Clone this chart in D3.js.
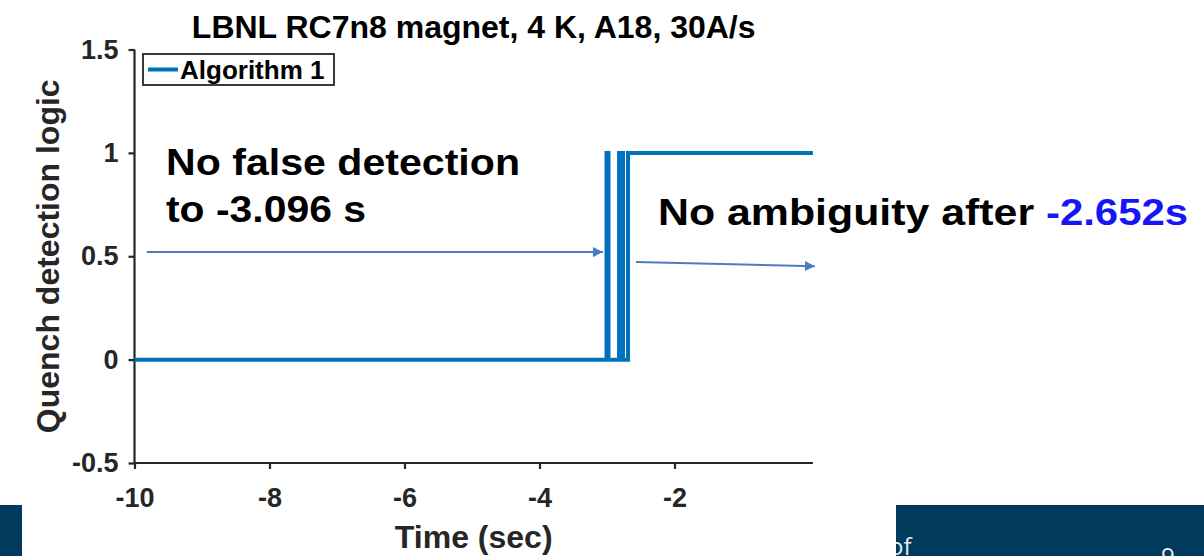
<!DOCTYPE html>
<html>
<head>
<meta charset="UTF-8">
<style>
  body { margin: 0; background: #fff; }
  svg { display: block; font-family: "Liberation Sans", Arial, sans-serif; }
</style>
</head>
<body>
<svg></svg>
<script src="https://d3js.org/d3.v7.min.js"></script>
<script>
// values
const times = [-10, -3.007, -2.978, -2.822, -2.763, -2.689, 0.05];
const logic = [0, 1, 0, 1, 0, 1, 1];
const xTicks = [-10, -8, -6, -4, -2];
const yTicks = [-0.5, 0, 0.5, 1, 1.5];
const seriesName = "Algorithm 1";
const titleText = "LBNL RC7n8 magnet, 4 K, A18, 30A/s";

let width = 1204, height = 556;
let svg = d3.select("svg").attr("width", width).attr("height", height);

let x = d3.scaleLinear().domain([-10, 0.05]).range([134.5, 812.9]);
let y = d3.scaleLinear().domain([-0.5, 1.5]).range([463, 49.5]);

const axisColor = "#262626";
const lineColor = "#0072BD";
const arrowColor = "#4a7ebb";

// slide footer strips
svg.append("rect").attr("x", 0).attr("y", 505).attr("width", 22).attr("height", 51).attr("fill", "#003a5c");
svg.append("clipPath").attr("id", "footClip")
  .append("rect").attr("x", 896).attr("y", 505).attr("width", 308).attr("height", 51);
let foot = svg.append("g").attr("clip-path", "url(#footClip)");
foot.append("rect").attr("x", 896).attr("y", 505).attr("width", 308).attr("height", 51).attr("fill", "#003a5c");
foot.append("text").attr("x", 889).attr("y", 555).attr("font-family", "Open Sans, sans-serif")
  .attr("font-size", 24).attr("fill", "#e6ecf1").text("of");
foot.append("text").attr("x", 1161).attr("y", 565).attr("font-family", "Open Sans, sans-serif")
  .attr("font-size", 24).attr("fill", "#e6ecf1").text("9");

// axes
let xAxis = d3.axisBottom(x).tickValues(xTicks).tickSize(6).tickPadding(19).tickFormat(d => String(d));
let yAxis = d3.axisLeft(y).tickValues(yTicks).tickSize(6).tickPadding(10).tickFormat(d => String(d));

let gx = svg.append("g").attr("transform", "translate(0," + y(-0.5) + ")").call(xAxis);
let gy = svg.append("g").attr("transform", "translate(" + x(-10) + ",0)").call(yAxis);

[gx, gy].forEach(g => {
  g.select(".domain").attr("stroke", axisColor).attr("stroke-width", 2.2);
  g.selectAll(".tick line").attr("stroke", axisColor).attr("stroke-width", 2.2);
  g.selectAll(".tick text").attr("fill", axisColor)
    .attr("font-family", "Liberation Sans, Arial, sans-serif")
    .attr("font-size", 27).attr("font-weight", "bold");
});
gx.select(".domain").attr("d", "M" + x(-10) + ",0H" + x(0.05));
gy.select(".domain").attr("d", "M0," + y(-0.5) + "V" + y(1.5));

// step line
let pts = times.map((t, i) => [t, logic[i]]);
let line = d3.line().x(d => x(d[0])).y(d => y(d[1])).curve(d3.curveStepAfter);
svg.append("path").datum(pts)
  .attr("d", line)
  .attr("fill", "none")
  .attr("stroke", lineColor)
  .attr("stroke-width", 4);

// labels
svg.append("text").attr("x", (x(-10) + x(0.05)) / 2).attr("y", 38)
  .attr("text-anchor", "middle").attr("font-size", 32).attr("font-weight", "bold")
  .attr("fill", "#000").text(titleText);

svg.append("text").attr("x", (x(-10) + x(0.05)) / 2).attr("y", 548)
  .attr("text-anchor", "middle").attr("font-size", 32).attr("font-weight", "bold")
  .attr("fill", axisColor).text("Time (sec)");

svg.append("text").attr("transform", "translate(59," + y(0.5) + ") rotate(-90)")
  .attr("text-anchor", "middle").attr("font-size", 32).attr("font-weight", "bold")
  .attr("fill", axisColor).text("Quench detection logic");

// legend
let lg = svg.append("g").attr("transform", "translate(143,54)");
lg.append("rect").attr("width", 191).attr("height", 31)
  .attr("fill", "#fff").attr("stroke", axisColor).attr("stroke-width", 1.8);
lg.append("line").attr("x1", 5).attr("x2", 35).attr("y1", 15.5).attr("y2", 15.5)
  .attr("stroke", lineColor).attr("stroke-width", 4);
lg.append("text").attr("x", 37).attr("y", 25).attr("font-size", 26).attr("font-weight", "bold")
  .attr("fill", "#000").text(seriesName);

// annotations
let defs = svg.append("defs");
defs.append("marker").attr("id", "arr").attr("viewBox", "0 0 10 10")
  .attr("refX", 10).attr("refY", 5).attr("markerWidth", 6).attr("markerHeight", 5)
  .attr("markerUnits", "strokeWidth").attr("orient", "auto")
  .append("path").attr("d", "M0,0L10,5L0,10Z").attr("fill", arrowColor);

svg.append("line")
  .attr("x1", x(-9.82)).attr("y1", y(0.52)).attr("x2", x(-3.06)).attr("y2", y(0.52))
  .attr("stroke", arrowColor).attr("stroke-width", 2).attr("marker-end", "url(#arr)");
svg.append("line")
  .attr("x1", x(-2.57)).attr("y1", y(0.472)).attr("x2", x(0.08)).attr("y2", y(0.452))
  .attr("stroke", arrowColor).attr("stroke-width", 2).attr("marker-end", "url(#arr)");

svg.append("text").attr("x", 166).attr("y", 175).attr("font-size", 37).attr("font-weight", "bold")
  .attr("textLength", 354).attr("lengthAdjust", "spacingAndGlyphs").text("No false detection");
svg.append("text").attr("x", 166).attr("y", 222).attr("font-size", 37).attr("font-weight", "bold")
  .attr("textLength", 200).attr("lengthAdjust", "spacingAndGlyphs").text("to -3.096 s");

let amb = svg.append("text").attr("x", 658).attr("y", 225).attr("font-size", 37).attr("font-weight", "bold");
amb.append("tspan").attr("fill", "#000").attr("textLength", 388).attr("lengthAdjust", "spacingAndGlyphs")
  .text("No ambiguity after ");
amb.append("tspan").attr("fill", "#1515f5").attr("textLength", 142).attr("lengthAdjust", "spacingAndGlyphs")
  .text("-2.652s");
</script>
</body>
</html>
